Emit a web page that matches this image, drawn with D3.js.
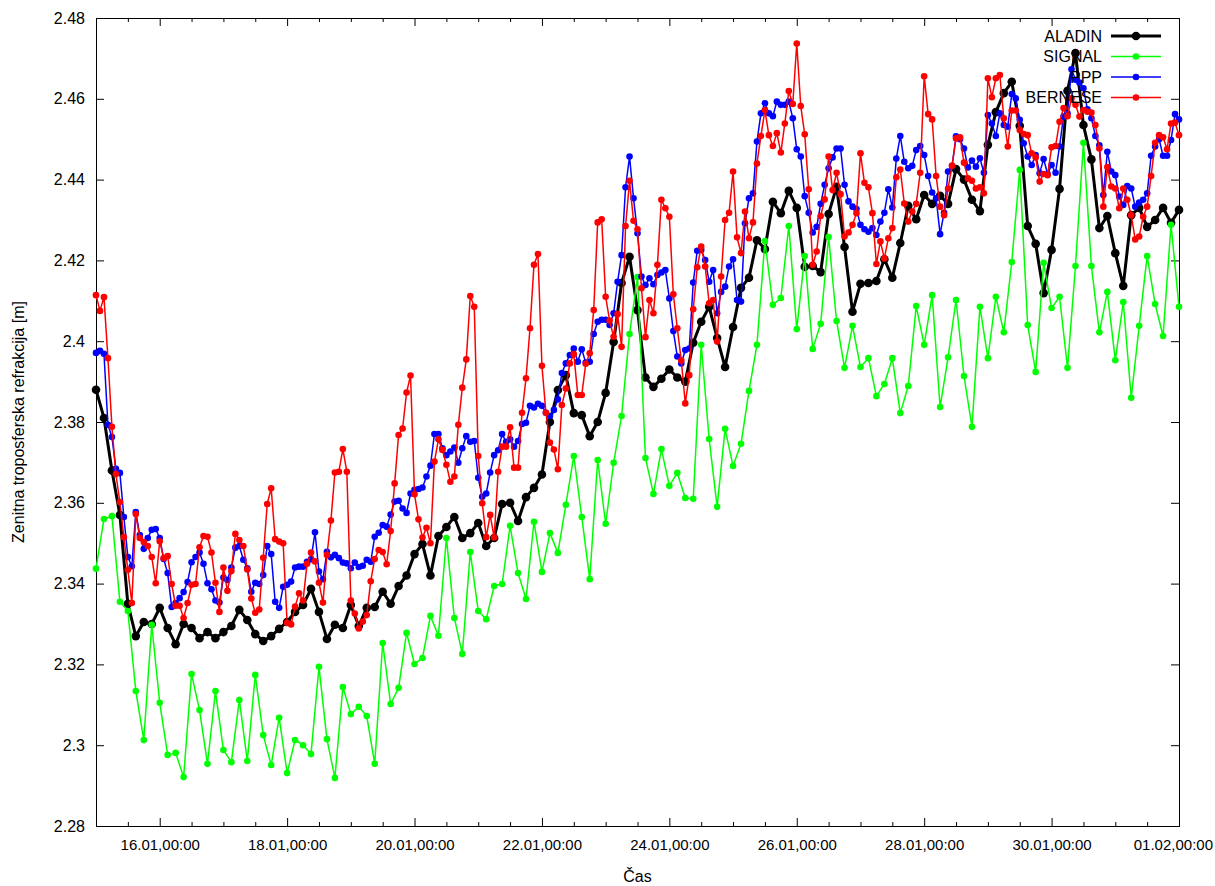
<!DOCTYPE html>
<html>
<head>
<meta charset="utf-8">
<script src="https://cdn.jsdelivr.net/npm/d3@7/dist/d3.min.js"></script>
<style>
  body { margin: 0; background: #fff; }
  text { font-family: "Liberation Sans", Arial, Helvetica, sans-serif; }
</style>
</head>
<body>
<svg id="chart" width="1215" height="886"></svg>
<script>
// time base: 15.01 00:00, ALADIN + SIGNAL every 3 h, PPP + BERNESE every 1.5 h
var startTime = Date.UTC(2014, 0, 15, 0, 0),
    endTime = Date.UTC(2014, 1, 1, 0, 0),
    modelStepH = 3,
    gpsStepH = 1.5;

var aladin = [
  2.388, 2.381, 2.368, 2.357, 2.335, 2.327, 2.3305, 2.330, 2.334, 2.329,
  2.325, 2.330, 2.329, 2.3265, 2.328, 2.3265, 2.328, 2.3295, 2.3335, 2.331,
  2.3275, 2.3258, 2.327, 2.3288, 2.3305, 2.333, 2.3347, 2.3387, 2.333, 2.3263,
  2.3298, 2.329, 2.3347, 2.3295, 2.334, 2.3342, 2.338, 2.335, 2.3394, 2.342,
  2.3473, 2.3498, 2.342, 2.3518, 2.354, 2.3565, 2.3513, 2.3525, 2.355, 2.3493,
  2.3513, 2.3597, 2.360, 2.3555, 2.3614, 2.3637, 2.367, 2.380, 2.3879, 2.3916,
  2.3822, 2.3817, 2.3765, 2.380, 2.3872, 2.3998, 2.4144, 2.4209, 2.4077, 2.391,
  2.3887, 2.3907, 2.393, 2.391, 2.390, 2.3996, 2.4048, 2.4085, 2.4008, 2.3936,
  2.4035, 2.4132, 2.4157, 2.425, 2.4228, 2.4345, 2.4317, 2.4372, 2.433, 2.4184,
  2.4186, 2.4171, 2.4315, 2.4382, 2.4233, 2.4073, 2.4142, 2.4144, 2.4149, 2.4203,
  2.4157, 2.4243, 2.4335, 2.4302, 2.4362, 2.434, 2.436, 2.434, 2.4426, 2.440,
  2.435, 2.4322, 2.4486, 2.4567, 2.4614, 2.4642, 2.4533, 2.4285, 2.4241, 2.4119,
  2.4226, 2.4377, 2.462, 2.4713, 2.4535, 2.445, 2.428, 2.431, 2.4218, 2.4137,
  2.4312, 2.433, 2.4283, 2.430, 2.433, 2.4293, 2.4325
];

var signal = [
  2.3437, 2.356, 2.3567, 2.3355, 2.3332, 2.3134, 2.3013, 2.3298, 2.3105, 2.2976,
  2.2981, 2.2921, 2.3176, 2.3087, 2.2954, 2.3134, 2.2988, 2.2958, 2.3112, 2.2961,
  2.3174, 2.3025, 2.2951, 2.3068, 2.2931, 2.3013, 2.300, 2.2978, 2.3194, 2.3015,
  2.2919, 2.3144, 2.3077, 2.3095, 2.3072, 2.2954, 2.3253, 2.3102, 2.3142, 2.3278,
  2.3201, 2.3216, 2.332, 2.3271, 2.3513, 2.3315, 2.3226, 2.3478, 2.3332, 2.3312,
  2.3394, 2.3399, 2.3543, 2.3426, 2.3362, 2.3553, 2.3429, 2.3525, 2.3476, 2.3595,
  2.3716, 2.3565, 2.3411, 2.3706, 2.3548, 2.3699, 2.3815, 2.4018, 2.4159, 2.3711,
  2.3622, 2.3733, 2.3642, 2.3674, 2.3612, 2.361, 2.3991, 2.3758, 2.359, 2.3783,
  2.3691, 2.3746, 2.3877, 2.3991, 2.4248, 2.409, 2.4107, 2.4285, 2.403, 2.4211,
  2.3981, 2.4043, 2.4258, 2.405, 2.3934, 2.4038, 2.3936, 2.3958, 2.3864, 2.3894,
  2.3958, 2.3822, 2.3889, 2.4087, 2.3991, 2.4114, 2.3837, 2.396, 2.4102, 2.3914,
  2.3788, 2.4085, 2.3958, 2.411, 2.4022, 2.4196, 2.4424, 2.404, 2.3924, 2.4194,
  2.4082, 2.411, 2.3934, 2.4186, 2.4491, 2.4186, 2.4022, 2.4122, 2.3953, 2.4097,
  2.386, 2.4038, 2.4211, 2.4092, 2.4013, 2.4288, 2.4085
];

var ppp = [
  2.3971, 2.3976, 2.3969, 2.3793, 2.3763, 2.3684, 2.3674, 2.3565, 2.3466, 2.3443,
  2.3577, 2.352, 2.3486, 2.3513, 2.3533, 2.3535, 2.3513, 2.3461, 2.3426, 2.3342,
  2.3352, 2.3364, 2.3379, 2.3404, 2.3453, 2.3466, 2.3477, 2.3449, 2.3401, 2.3386,
  2.3358, 2.3353, 2.3415, 2.3409, 2.344, 2.3489, 2.3493, 2.3459, 2.3438, 2.338,
  2.3402, 2.3399, 2.3421, 2.3493, 2.3473, 2.3355, 2.334, 2.3392, 2.3397, 2.3405,
  2.344, 2.3442, 2.3442, 2.3454, 2.346, 2.3527, 2.343, 2.3411, 2.3479, 2.3465,
  2.3471, 2.3463, 2.3452, 2.345, 2.3438, 2.3452, 2.3441, 2.3444, 2.3459, 2.3454,
  2.3516, 2.3526, 2.3545, 2.3541, 2.3571, 2.3603, 2.3605, 2.3586, 2.3575, 2.3623,
  2.3632, 2.3634, 2.3638, 2.3665, 2.3692, 2.377, 2.377, 2.3735, 2.3718, 2.3727,
  2.3737, 2.3699, 2.3735, 2.3765, 2.3751, 2.3753, 2.3662, 2.3615, 2.3623, 2.3675,
  2.3718, 2.373, 2.377, 2.3751, 2.3757, 2.3739, 2.3753, 2.3795, 2.3798, 2.384,
  2.3836, 2.3845, 2.384, 2.3823, 2.3815, 2.383, 2.3856, 2.3921, 2.3945, 2.3966,
  2.3982, 2.3949, 2.398, 2.3947, 2.3949, 2.4018, 2.4048, 2.4053, 2.4053, 2.404,
  2.4069, 2.4147, 2.4213, 2.4381, 2.4457, 2.4354, 2.4267, 2.416, 2.4139, 2.4156,
  2.4141, 2.4164, 2.417, 2.4176, 2.4106, 2.4025, 2.3962, 2.3945, 2.3978, 2.3982,
  2.4145, 2.4224, 2.4226, 2.4201, 2.4147, 2.4176, 2.4069, 2.4122, 2.4135, 2.4185,
  2.4203, 2.4102, 2.4098, 2.4292, 2.4354, 2.4366, 2.4494, 2.4564, 2.4589, 2.4564,
  2.4557, 2.4593, 2.4585, 2.4585, 2.4593, 2.4552, 2.4475, 2.4457, 2.4359, 2.4318,
  2.4269, 2.4283, 2.434, 2.4387, 2.4428, 2.4455, 2.4477, 2.4477, 2.4387, 2.4346,
  2.4333, 2.4327, 2.4288, 2.4277, 2.4271, 2.428, 2.4263, 2.4296, 2.4318, 2.4376,
  2.4331, 2.4452, 2.4508, 2.4444, 2.4428, 2.4434, 2.4473, 2.4483, 2.4461, 2.4409,
  2.4368, 2.4354, 2.4265, 2.4318, 2.442, 2.4434, 2.4507, 2.45, 2.4477, 2.443,
  2.4447, 2.4432, 2.4453, 2.4417, 2.456, 2.4539, 2.4508, 2.4564, 2.4535, 2.4531,
  2.4612, 2.4601, 2.4548, 2.449, 2.4457, 2.4436, 2.4461, 2.4416, 2.4451, 2.4414,
  2.4436, 2.4417, 2.4482, 2.4556, 2.4564, 2.4673, 2.4647, 2.464, 2.4626, 2.4574,
  2.4552, 2.4508, 2.4485, 2.4362, 2.4469, 2.442, 2.4411, 2.4358, 2.4337, 2.4384,
  2.4378, 2.4333, 2.4343, 2.435, 2.4366, 2.4459, 2.4482, 2.45, 2.4459, 2.4459,
  2.4498, 2.4562, 2.4549
];

var bernese = [
  2.4114, 2.4075, 2.4109, 2.3958, 2.3788, 2.3671, 2.3602, 2.3515, 2.3434, 2.3352,
  2.3572, 2.3513, 2.3503, 2.3493, 2.3466, 2.3401, 2.3505, 2.3463, 2.3468, 2.3399,
  2.3345, 2.3345, 2.3315, 2.3352, 2.3397, 2.3399, 2.349, 2.3518, 2.3516, 2.3477,
  2.3402, 2.333, 2.344, 2.3382, 2.3431, 2.3523, 2.3508, 2.3493, 2.3435, 2.3363,
  2.3328, 2.3336, 2.3464, 2.3597, 2.3636, 2.351, 2.3504, 2.35, 2.3303, 2.3299,
  2.3343, 2.3376, 2.3358, 2.3449, 2.3477, 2.3455, 2.3402, 2.3353, 2.3471, 2.3556,
  2.3675, 2.3677, 2.3733, 2.3677, 2.3358, 2.3326, 2.3289, 2.3306, 2.3322, 2.3406,
  2.3461, 2.3483, 2.3478, 2.3448, 2.353, 2.3648, 2.3768, 2.3784, 2.3873, 2.3915,
  2.3621, 2.3559, 2.3514, 2.3538, 2.35, 2.3702, 2.3757, 2.3731, 2.3694, 2.3652,
  2.3665, 2.3793, 2.3885, 2.3955, 2.4112, 2.4085, 2.3716, 2.3599, 2.3515, 2.357,
  2.3514, 2.3677, 2.3739, 2.3739, 2.3787, 2.3687, 2.3687, 2.3823, 2.3908, 2.4032,
  2.4189, 2.4216, 2.3939, 2.3823, 2.3749, 2.3732, 2.3683, 2.3842, 2.3883, 2.3945,
  2.3968, 2.3867, 2.3867, 2.3944, 2.397, 2.4077, 2.4294, 2.4302, 2.411, 2.4051,
  2.4011, 2.4067, 2.3986, 2.4285, 2.4397, 2.4298, 2.4277, 2.4131, 2.401, 2.4102,
  2.4069, 2.4189, 2.435, 2.4329, 2.4308, 2.4116, 2.4032, 2.3952, 2.3846, 2.3916,
  2.4079, 2.4183, 2.4234, 2.4185, 2.4094, 2.4102, 2.3999, 2.416, 2.43, 2.4318,
  2.442, 2.4257, 2.4218, 2.4321, 2.4255, 2.4294, 2.444, 2.4508, 2.4572, 2.451,
  2.4483, 2.4515, 2.4467, 2.4539, 2.4619, 2.4587, 2.4737, 2.4582, 2.4512, 2.4376,
  2.4189, 2.4222, 2.431, 2.4351, 2.4457, 2.4374, 2.4417, 2.4364, 2.4259, 2.4269,
  2.4288, 2.4317, 2.4465, 2.4392, 2.4381, 2.4317, 2.4191, 2.4247, 2.4205, 2.4255,
  2.428, 2.4406, 2.4425, 2.4341, 2.4296, 2.4321, 2.434, 2.4417, 2.4656, 2.4562,
  2.4549, 2.4409, 2.4333, 2.4312, 2.4378, 2.4434, 2.4502, 2.4505, 2.4442, 2.4403,
  2.4397, 2.4378, 2.4381, 2.4366, 2.4651, 2.4604, 2.4651, 2.4659, 2.4552, 2.4482,
  2.4571, 2.4571, 2.4523, 2.4513, 2.451, 2.4465, 2.4455, 2.4395, 2.4414, 2.4411,
  2.448, 2.4483, 2.4543, 2.4577, 2.4557, 2.4601, 2.4585, 2.4556, 2.4572, 2.4568,
  2.4566, 2.4535, 2.4477, 2.4333, 2.4431, 2.4383, 2.4378, 2.4329, 2.4378, 2.435,
  2.4312, 2.4252, 2.4259, 2.4308, 2.4333, 2.4409, 2.4491, 2.451, 2.4505, 2.4475,
  2.4539, 2.4541, 2.451
];

var xTickDays = ["2014-01-16", "2014-01-18", "2014-01-20", "2014-01-22", "2014-01-24",
                 "2014-01-26", "2014-01-28", "2014-01-30", "2014-02-01"];
var yTicks = [2.28, 2.30, 2.32, 2.34, 2.36, 2.38, 2.40, 2.42, 2.44, 2.46, 2.48];

var series = [
  {name: "ALADIN",  values: aladin,  step: modelStepH, color: "#000000", lw: 3,   r: 4.3},
  {name: "SIGNAL",  values: signal,  step: modelStepH, color: "#00ff00", lw: 1.5, r: 3.3},
  {name: "PPP",     values: ppp,     step: gpsStepH,   color: "#0000ff", lw: 1.5, r: 3.3},
  {name: "BERNESE", values: bernese, step: gpsStepH,   color: "#ff0000", lw: 1.5, r: 3.3}
];

var w = 1215, h = 886,
    m = [18, 36, 60, 96], // top right bottom left
    fs = 16;

var svg = d3.select("#chart");

var x = d3.scaleUtc()
    .domain([new Date(startTime), new Date(endTime)])
    .range([m[3], w - m[1]]);
var y = d3.scaleLinear()
    .domain([2.28, 2.48])
    .range([h - m[2], m[0]]);

var fmt = d3.utcFormat("%d.%m,%H:%M");
var xMajor = xTickDays.map(function(d) { return new Date(d + "T00:00:00Z"); });
var xMinor = d3.utcHour.every(12).range(new Date(startTime), new Date(endTime + 1))
    .filter(function(d) { return !xMajor.some(function(t) { return +t === +d; }); });

// minor ticks (bottom + top)
svg.append("g")
    .attr("transform", "translate(0," + (h - m[2]) + ")")
    .call(d3.axisBottom(x).tickValues(xMinor).tickSize(-4).tickFormat(""))
    .call(function(g) { g.select(".domain").remove(); });
svg.append("g")
    .attr("transform", "translate(0," + m[0] + ")")
    .call(d3.axisTop(x).tickValues(xMinor).tickSize(-4).tickFormat(""))
    .call(function(g) { g.select(".domain").remove(); });

var xAxis = svg.append("g")
    .attr("transform", "translate(0," + (h - m[2]) + ")")
    .call(d3.axisBottom(x).tickValues(xMajor).tickSize(-8).tickPadding(13).tickFormat(fmt));
svg.append("g")
    .attr("transform", "translate(0," + m[0] + ")")
    .call(d3.axisTop(x).tickValues(xMajor).tickSize(-8).tickFormat(""));

svg.append("g")
    .attr("transform", "translate(" + m[3] + ",0)")
    .call(d3.axisLeft(y).tickValues(yTicks).tickSize(-8).tickPadding(11)
      .tickFormat(function(d) { return d3.format(".2f")(d).replace(/0$/, "").replace(/\.$/, ""); }));
svg.append("g")
    .attr("transform", "translate(" + (w - m[1]) + ",0)")
    .call(d3.axisRight(y).tickValues(yTicks).tickSize(-8).tickFormat(""));

svg.selectAll(".tick text")
    .attr("font-size", fs)
    .attr("font-family", "Liberation Sans, Arial, sans-serif")
    .attr("fill", "#000");
svg.selectAll(".tick line").attr("stroke", "#000");
svg.selectAll(".domain").attr("stroke", "#000");

// x labels a touch smaller; keep the last one inside the page
xAxis.selectAll(".tick text")
    .attr("font-size", 15)
    .each(function() {
      var bb = this.getBBox(),
          tick = this.parentNode.transform.baseVal.consolidate().matrix.e,
          over = tick + bb.x + bb.width - (w - 2);
      if (over > 0) d3.select(this).attr("x", -over);
    });

// frame
svg.append("rect")
    .attr("x", m[3] + 0.5).attr("y", m[0] + 0.5)
    .attr("width", w - m[1] - m[3]).attr("height", h - m[0] - m[2])
    .attr("fill", "none").attr("stroke", "#000").attr("stroke-width", 1);

// axis titles
svg.append("text")
    .attr("x", (m[3] + w - m[1]) / 2).attr("y", 882)
    .attr("text-anchor", "middle").attr("font-size", fs)
    .text("Čas");
svg.append("text")
    .attr("transform", "translate(24," + ((m[0] + h - m[2]) / 2) + ") rotate(-90)")
    .attr("text-anchor", "middle").attr("font-size", fs)
    .text("Zenitna troposferska refrakcija [m]");

// legend text first, data goes over it (as in gnuplot output)
var legend = svg.append("g");
series.forEach(function(s, i) {
  var ly = 36 + i * 20.5;
  legend.append("text")
      .attr("x", 1102).attr("y", ly).attr("dy", "0.35em")
      .attr("text-anchor", "end").attr("font-size", fs)
      .text(s.name);
});

var plot = svg.append("g");
series.forEach(function(s, i) {
  var pts = s.values.map(function(v, k) {
    return {t: new Date(startTime + k * s.step * 3600e3), v: v};
  });
  var line = d3.line()
      .x(function(d) { return x(d.t); })
      .y(function(d) { return y(d.v); });
  var g = plot.append("g");
  g.append("path")
      .datum(pts)
      .attr("d", line)
      .attr("fill", "none")
      .attr("stroke", s.color)
      .attr("stroke-width", s.lw)
      .attr("stroke-linejoin", "round");
  g.selectAll("circle")
      .data(pts)
    .enter().append("circle")
      .attr("cx", function(d) { return x(d.t); })
      .attr("cy", function(d) { return y(d.v); })
      .attr("r", s.r)
      .attr("fill", s.color);

  // legend sample
  var ly = 36 + i * 20.5;
  legend.append("line")
      .attr("x1", 1111).attr("x2", 1161).attr("y1", ly).attr("y2", ly)
      .attr("stroke", s.color).attr("stroke-width", s.lw);
  legend.append("circle")
      .attr("cx", 1136).attr("cy", ly).attr("r", s.r).attr("fill", s.color);
});
legend.raise();
legend.selectAll("text").lower();
</script>
</body>
</html>
